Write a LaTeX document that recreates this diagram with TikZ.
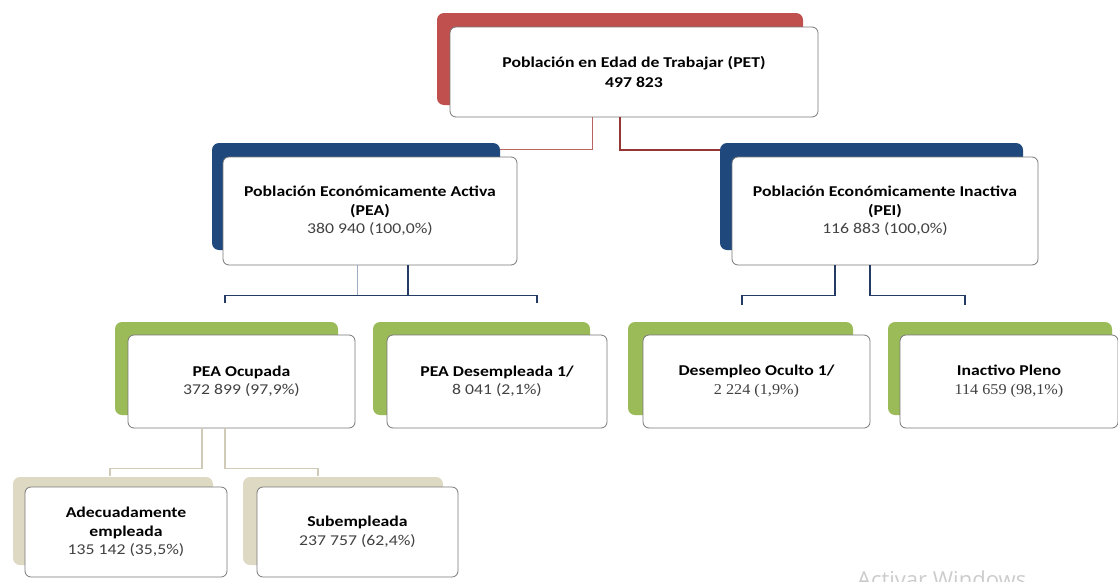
\documentclass[tikz,border=0pt]{standalone}
\usepackage{fontspec}
\setmainfont{Carlito}[FakeStretch=1.18]
\newfontfamily\numserif{Liberation Serif}[FakeStretch=1.08]
\newfontfamily\wmfont{Open Sans}
\definecolor{tabred}{RGB}{192,80,77}
\definecolor{tabblue}{RGB}{31,73,125}
\definecolor{tabgreen}{RGB}{155,187,89}
\definecolor{tabbeige}{RGB}{221,217,195}
\definecolor{linered}{RGB}{150,54,52}
\definecolor{lineredlight}{RGB}{185,100,96}
\definecolor{lineblue}{RGB}{36,60,100}
\definecolor{linebluelight}{RGB}{160,172,195}
\definecolor{linebeige}{RGB}{208,203,183}
\definecolor{numgray}{RGB}{65,65,65}
\definecolor{framegray}{RGB}{120,120,120}
\begin{document}
\begin{tikzpicture}[x=1pt,y=-1pt,
  tabbox/.style={draw=none, rounded corners=7pt, inner sep=0pt},
  frontbox/.style={draw=framegray, line width=0.8pt, fill=white, rounded corners=6pt,
    inner sep=0pt, align=center, font=\fontsize{15}{18.5}\selectfont},
  numtxt/.style={text=numgray},
  redthin/.style={draw=lineredlight, line width=1pt},
  redthick/.style={draw=linered, line width=1.8pt},
  bluethin/.style={draw=linebluelight, line width=1pt},
  bluethick/.style={draw=lineblue, line width=1.8pt},
  blueline/.style={draw=lineblue, line width=1.4pt},
  beigeline/.style={draw=linebeige, line width=1.6pt}]
\useasboundingbox[fill=white] (0,0) rectangle (1118,581);

% ---------- PET ----------
\node[tabbox, fill=tabred, minimum width=366pt, minimum height=92pt] (petback) at (620,59) {};
\node[frontbox, minimum width=368pt, minimum height=90pt, font=\fontsize{15}{20}\selectfont] (pet) at (634,72)
  {\bfseries Población en Edad de Trabajar (PET)\\ \bfseries 497 823};

% ---------- PEA / PEI ----------
\node[tabbox, fill=tabblue, minimum width=288pt, minimum height=107pt] (peaback) at (356,196.5) {};
\node[frontbox, minimum width=294pt, minimum height=108pt] (pea) at (370,211)
  {\bfseries Población Económicamente Activa\\ \bfseries (PEA)\\ {\color{numgray}380 940 (100,0\%)}};

\node[tabbox, fill=tabblue, minimum width=303pt, minimum height=107pt] (peiback) at (871.5,196.5) {};
\node[frontbox, minimum width=306pt, minimum height=108pt] (pei) at (885,211)
  {\bfseries Población Económicamente Inactiva\\ \bfseries (PEI)\\ {\color{numgray}116 883 (100,0\%)}};

% ---------- green row ----------
\node[tabbox, fill=tabgreen, minimum width=223pt, minimum height=93pt] (ocuback) at (226.5,368.5) {};
\node[frontbox, minimum width=227pt, minimum height=93pt] (ocu) at (241.5,381.5)
  {\bfseries PEA Ocupada\\ {\color{numgray}372 899 (97,9\%)}};

\node[tabbox, fill=tabgreen, minimum width=217pt, minimum height=93pt] (desback) at (481.5,368.5) {};
\node[frontbox, minimum width=220pt, minimum height=93pt] (des) at (497,381.5)
  {\bfseries PEA Desempleada 1/\\ {\color{numgray}8 041 (2,1\%)}};

\node[tabbox, fill=tabgreen, minimum width=225pt, minimum height=93pt] (ocultback) at (740.5,368.5) {};
\node[frontbox, minimum width=227pt, minimum height=93pt] (ocult) at (756.5,381.5)
  {\bfseries Desempleo Oculto 1/\\ {\color{numgray}\numserif 2 224 (1,9\%)}};

\node[tabbox, fill=tabgreen, minimum width=224pt, minimum height=93pt] (plenoback) at (1000,368.5) {};
\node[frontbox, minimum width=218pt, minimum height=93pt] (pleno) at (1009,381.5)
  {\bfseries Inactivo Pleno\\ {\color{numgray}\numserif 114 659 (98,1\%)}};

% ---------- beige row ----------
\node[tabbox, fill=tabbeige, minimum width=200pt, minimum height=88pt] (adeback) at (113,521) {};
\node[frontbox, minimum width=202pt, minimum height=90pt] (ade) at (126,532)
  {\bfseries Adecuadamente\\ \bfseries empleada\\ {\color{numgray}135 142 (35,5\%)}};

\node[tabbox, fill=tabbeige, minimum width=200pt, minimum height=88pt] (subback) at (343,521) {};
\node[frontbox, minimum width=201pt, minimum height=90pt] (sub) at (357.5,532)
  {\bfseries Subempleada\\ {\color{numgray}237 757 (62,4\%)}};

% ---------- connectors ----------
\draw[redthin] ([xshift=-42pt]pet.south) |- ([yshift=-7pt]peaback.north east);
\draw[redthick] ([xshift=-14pt]pet.south) |- ([yshift=-7pt]peiback.north west);

\coordinate (peaJ) at ([xshift=38pt,yshift=-30pt]pea.south);
\coordinate (peaTL) at (225,303);
\coordinate (peaTR) at (537,303);
\draw[bluethin] ([xshift=-13pt]pea.south) -- ++(0,30);
\draw[bluethick] ([xshift=38pt]pea.south) -- (peaJ);
\draw[blueline] (peaTL) |- (peaJ) -| (peaTR);

\coordinate (peiTL) at (742,305);
\coordinate (peiTR) at (965,305);
\draw[bluethick] ([xshift=-50pt]pei.south) -- ++(0,30) -| (peiTL);
\draw[bluethick] ([xshift=-15pt]pei.south) -- ++(0,30) -| (peiTR);

\coordinate (ocuTL) at (110,476);
\coordinate (ocuTR) at (318,476);
\draw[beigeline] ([xshift=-39.5pt]ocu.south) -- ++(0,40) -| (ocuTL);
\draw[beigeline] ([xshift=-16.5pt]ocu.south) -- ++(0,40) -| (ocuTR);

% ---------- watermark ----------
\node[anchor=north west, inner sep=0pt, text=gray!40, font=\wmfont\fontsize{22}{24}\selectfont] (wm) at (857,571) {Activar Windows};
\end{tikzpicture}
\end{document}
